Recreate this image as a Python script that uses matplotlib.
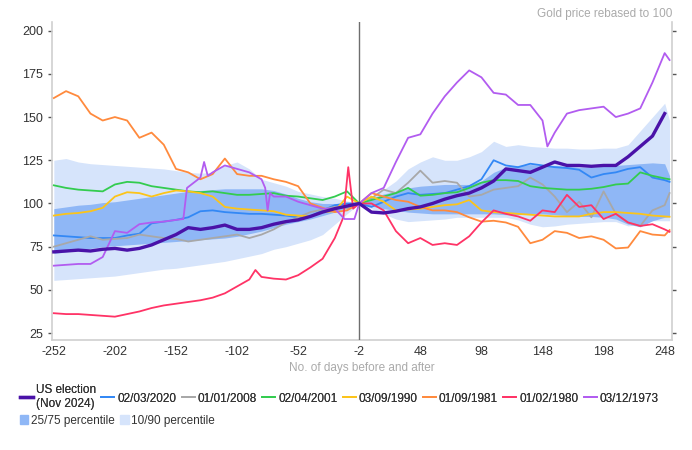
import matplotlib
matplotlib.use("Agg")
import matplotlib.pyplot as plt
from matplotlib.patches import Patch

# ─── Data (gold price rebased to 100) ──────────────────────────────────────
DAYS = list(range(-252, 249, 10)) + [252]

ELECTION_2024 = [72, 72.5, 73, 72.5, 73.5, 74, 73, 74, 76, 79,
                 82, 86, 85, 86, 87.5, 85, 85, 86, 88, 89.5,
                 90.5, 92.5, 95, 97, 98.5, 100, 95, 94.5, 95.5, 97,
                 98, 100, 102.5, 104.5, 106, 109, 113, 120, 119, 118,
                 121, 124, 122, 122, 121.5, 122, 122, 127, 133, 139,
                 152]

S_2020 = [81.5, 81, 80.5, 80, 80, 80, 81.5, 82.5, 88.5, 89.5,
          90.5, 92, 95.5, 96, 95, 94.5, 94, 94, 93.5, 93,
          92, 92.5, 96, 99, 100, 100, 98, 101, 104, 106,
          105, 105.5, 106, 108, 110, 114, 125, 122, 121, 123,
          122, 121, 120.5, 119.5, 115, 117, 118, 120, 121, 115,
          113.5, 112.5]

S_2008 = [75, 77, 79, 81, 79, 79.5, 80, 82, 81, 80,
          79.5, 78, 79, 80, 81, 82, 80, 82, 85, 89,
          92, 95, 96.5, 98, 97, 100, 103, 108, 106, 112,
          119, 112, 113, 112, 104, 105, 108, 109, 110, 115,
          111, 104, 95, 101, 92, 107, 94, 89, 87, 96,
          99, 106]

S_2001 = [110.5, 109, 108, 107.5, 107, 111, 112.5, 112, 110, 109,
          108, 107, 106.5, 107, 106, 105, 105, 105.5, 106, 104.5,
          104, 103, 102, 104, 107, 100, 102, 104, 106, 109,
          104.5, 105, 106, 106.5, 109, 112, 113.5, 113.5, 113, 110,
          109, 108.5, 108, 108, 108.5, 109.5, 111, 111.5, 118, 116,
          114.5, 114]

S_1990 = [93, 94, 94.5, 95.5, 97.5, 104, 106.5, 106, 104, 106,
          107.5, 107, 106, 104, 98, 97, 96.5, 96, 95.5, 93.5,
          93, 92.5, 95, 95.5, 104, 100, 104, 101, 96, 96.5,
          97, 98, 99, 99.5, 102, 96, 95, 94.5, 94, 93.5,
          93, 92.5, 92.5, 92.5, 94, 95, 95, 94.5, 94, 93,
          92.5, 92.3]

S_1981 = [161, 165, 162, 152, 148, 150, 148, 138, 141, 134,
          120, 118, 114, 117, 126, 117, 116, 116, 114, 112.5,
          110, 100, 97.5, 95, 96, 100, 106, 104, 102, 101,
          98, 96, 96, 95, 92, 89.5, 90, 89, 86.5, 77,
          79, 84, 83, 80, 81, 79, 74, 74.5, 84, 82,
          81.5, 84.6]

DAYS_1980 = [-252, -242, -232, -222, -212, -202, -192, -182, -172, -162,
             -152, -142, -132, -122, -112, -102, -92, -87, -82, -72,
             -62, -52, -42, -32, -22, -15, -11, -7, -2, 8,
             18, 28, 38, 48, 58, 68, 78, 88, 98, 108,
             118, 128, 138, 148, 158, 168, 178, 188, 198, 208,
             218, 228, 238, 248, 252]
S_1980 = [36.5, 36, 36, 35.5, 35, 34.5, 36, 37.5, 39.5, 41,
          42, 43, 44, 45.5, 48, 52, 56, 61.5, 57.5, 56.5,
          56, 58.5, 63, 68, 80, 92, 121, 97, 100, 100,
          96, 84, 77, 80, 76, 77, 76, 81, 89, 96,
          94, 92.5, 90, 96, 95, 105, 98, 99, 91, 94,
          89, 87, 88, 85, 83.6]

DAYS_1973 = [-252, -242, -232, -222, -212, -202, -192, -182, -172, -162,
             -152, -146, -143, -132, -129, -126, -122, -112, -102, -92,
             -82, -79, -77, -75, -72, -62, -52, -42, -32, -22,
             -14, -6, -2, 8, 18, 28, 38, 48, 58, 68,
             78, 88, 98, 108, 118, 128, 138, 148, 152, 158,
             168, 178, 188, 198, 208, 218, 228, 238, 248, 252]
S_1973 = [64, 64.5, 65, 65, 69, 84, 83, 88, 89, 89.5,
          90.5, 91, 109, 115, 124, 116, 118, 122, 120, 118,
          114, 109, 96, 106, 104, 104, 101, 99, 97, 97,
          91, 91, 100, 106, 109, 124, 138, 140, 152, 162,
          170, 177, 173, 164, 163, 157, 157, 148, 133, 141,
          152, 154, 155, 156, 150, 152, 155, 170, 187, 183]

P90 = [125, 126, 124, 123, 122.5, 122, 121.5, 121, 120.5, 120,
       119, 118, 117.5, 118, 122, 124, 120, 114, 112, 110,
       107, 105.5, 104, 103, 101.5, 100, 104, 108, 113, 120,
       124, 127, 125, 125, 127, 130, 136, 133, 134, 133,
       132.5, 132, 132, 131.5, 131.5, 132, 132, 134, 142, 150,
       158, 148]
P75 = [97, 98, 99, 99.5, 100.5, 101, 102, 103, 104, 105,
       106, 107, 107.5, 108, 108.5, 108.5, 108.5, 108.5, 107.5, 105.5,
       103, 101, 100, 100, 100, 100, 103, 105.5, 107, 109,
       110, 110.5, 111, 111, 111, 113, 118, 121, 122, 122.5,
       122, 122, 121.5, 121, 121, 121.5, 122, 122.5, 123, 123.5,
       123, 116]
P25 = [71, 72, 73, 74, 75, 75.5, 76, 76.5, 77, 77.5,
       78, 78.5, 79, 79.5, 80, 81, 82.5, 84, 86, 88,
       89.5, 91, 93, 95, 97.5, 100, 98.5, 97, 96, 95,
       94.5, 94, 94, 94, 94, 94, 94, 93.5, 93.5, 94,
       94, 93.5, 93, 92.5, 92.5, 92, 91, 88, 86.5, 90,
       92, 92.5]
P10 = [55.5, 56, 56.5, 57, 57.5, 58, 59, 60, 61, 62,
       62.5, 63.5, 64.5, 65.5, 66.5, 68, 69.5, 71, 73.5, 75,
       77, 79, 82, 88, 94, 100, 97, 94, 91, 89.5,
       90, 90.5, 91, 92, 92, 92, 92, 92, 90.5, 88,
       86.5, 87, 88, 88.5, 89, 89.5, 89.5, 87, 88, 90,
       90, 90]

X_TICKS = list(range(-252, 249, 50))
Y_TICKS = [25, 50, 75, 100, 125, 150, 175, 200]

# ─── Styling ───────────────────────────────────────────────────────────────
SERIES = [
    ("US election\n(Nov 2024)", DAYS[:-1], ELECTION_2024, "#4a12a8", 2.4),
    ("02/03/2020", DAYS, S_2020, "#3388f5", 1.3),
    ("01/01/2008", DAYS, S_2008, "#a8a8a8", 1.3),
    ("02/04/2001", DAYS, S_2001, "#33cc4f", 1.3),
    ("03/09/1990", DAYS, S_1990, "#fcc419", 1.3),
    ("01/09/1981", DAYS, S_1981, "#ff8a3d", 1.3),
    ("01/02/1980", DAYS_1980, S_1980, "#ff3366", 1.3),
    ("03/12/1973", DAYS_1973, S_1973, "#b25cf0", 1.3),
]
BAND_DARK = "#8fb7f6"
BAND_LIGHT = "#d6e4fb"
TEXT_GREY = "#aaaaaa"

plt.rcParams["font.family"] = ["Liberation Sans", "DejaVu Sans"]
plt.rcParams["axes.unicode_minus"] = False

W, H = 692, 450
fig = plt.figure(figsize=(W / 100, H / 100), dpi=100)
ax = fig.add_axes([52 / W, 1 - 340 / H, 620 / W, 318 / H])

ax.fill_between(DAYS, P10, P90, color=BAND_LIGHT, lw=0, zorder=1)
ax.fill_between(DAYS, P25, P75, color=BAND_DARK, lw=0, zorder=2)
ax.axvline(-2, color="#6e6e6e", lw=1.0, zorder=3)

handles = []
for i, (label, xs, ys, color, lw) in enumerate(SERIES):
    z = 10 if i == 0 else 4 + i * 0.1
    (ln,) = ax.plot(xs, ys, color=color, lw=lw, label=label, zorder=z,
                    solid_joinstyle="round")
    handles.append(ln)

ax.set_xlim(-253.5, 254)
ax.set_ylim(21, 205)
ax.set_xticks(X_TICKS)
ax.set_yticks(Y_TICKS)
ax.tick_params(axis="x", length=0, pad=4.5, labelsize=9, labelcolor="#333333")
ax.tick_params(axis="y", length=3, width=1, color="#555555", pad=3.5,
               labelsize=9, labelcolor="#333333", right=True)
for side in ("left", "bottom", "right"):
    ax.spines[side].set_color("#d0d0d0")
    ax.spines[side].set_linewidth(1.2)
ax.spines["top"].set_visible(False)

ax.set_xlabel("No. of days before and after", fontsize=8.5, color=TEXT_GREY,
              labelpad=3)
fig.text(672 / W, 1 - 14 / H, "Gold price rebased to 100", fontsize=8.5,
         color=TEXT_GREY, ha="right", va="center")

leg1 = fig.legend(handles=handles, loc="center left",
                  bbox_to_anchor=(20 / W, 1 - 397 / H), ncol=8, frameon=False,
                  fontsize=8.5, handlelength=1.1, handletextpad=0.25,
                  columnspacing=0.45, borderpad=0, borderaxespad=0)
for t in leg1.get_texts():
    t.set_color("#333333")
fig.add_artist(leg1)

band_handles = [Patch(color=BAND_DARK, label="25/75 percentile"),
                Patch(color=BAND_LIGHT, label="10/90 percentile")]
leg2 = fig.legend(handles=band_handles, loc="center left",
                  bbox_to_anchor=(20 / W, 1 - 421 / H), ncol=2, frameon=False,
                  fontsize=8.5, handlelength=0.7, handleheight=0.8,
                  handletextpad=0.25, columnspacing=0.45, borderpad=0,
                  borderaxespad=0)
for t in leg2.get_texts():
    t.set_color("#333333")

fig.savefig("out.png", dpi=100)
